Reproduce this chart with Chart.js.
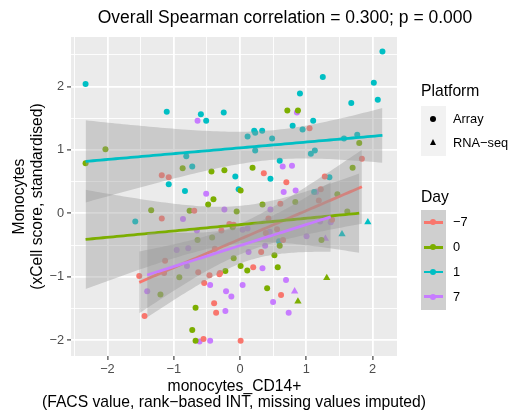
<!DOCTYPE html>
<html>
<head>
<meta charset="utf-8">
<script src="https://cdn.jsdelivr.net/npm/chart.js@4.4.1/dist/chart.umd.min.js"></script>
<style>
  body { margin: 0; background: #fff; font-family: "Liberation Sans", Arial, sans-serif; }
  #wrap { position: relative; width: 509px; height: 415px; }
  #chart { position: absolute; left: 0; top: 0; }
  .txt { position: absolute; white-space: nowrap; color: #000; }
  .ctr { transform: translateX(-50%); }
  .box { position: absolute; }
  .dot { position: absolute; width: 6px; height: 6px; border-radius: 50%; }
  .tri { position: absolute; width: 0; height: 0; border-left: 3.5px solid transparent; border-right: 3.5px solid transparent; border-bottom: 6px solid #000; }
  .keyline { position: absolute; height: 2.8px; }
</style>
</head>
<body>
<div id="wrap">
  <canvas id="chart" width="509" height="415"></canvas>
  <div class="txt ctr" style="left:285px; top:7px; line-height:20px; font-size:17.5px;">Overall Spearman correlation = 0.300; p = 0.000</div>
  <div class="txt ctr" style="left:234.5px; top:378px; line-height:16px; font-size:15.7px;">monocytes_CD14+</div>
  <div class="txt ctr" style="left:234px; top:394px; line-height:16px; font-size:15.7px;">(FACS value, rank&minus;based INT, missing values imputed)</div>
  <div id="legend"></div>
</div>
<script>
// Day groups and colours
const dayLabels = ['\u22127', '0', '1', '7'];
const dayColors = ['#F8766D', '#7CAE00', '#00BFC4', '#C77CFF'];
const platformLabels = ['Array', 'RNA\u2212seq'];

// [FACS value, xCell score] per day, Array platform
const arrayDayM7 = [[-1.18,0.60],[-1.075,0.57],[-0.69,0.04],[-1.18,-0.08],[-0.16,-0.17],[-0.095,-0.18],[-0.28,-0.27],[1.05,1.34],[0.36,0.63],[0.70,0.49],[1.28,0.58],[1.84,0.86],[1.22,0.38],[0.61,0.15],[0.43,-0.08],[0.56,-0.25],[0.65,-0.42],[0.39,-0.31],[1.19,0.20],[1.39,-0.10],[-1.13,-0.75],[-0.63,-0.93],[-1.145,-0.94],[-1.52,-0.99],[-0.46,-0.975],[-0.31,-0.96],[-0.30,-0.94],[-0.38,-0.56],[-0.54,-1.10],[-0.39,-1.42],[-1.44,-1.62],[-0.36,-1.57],[-0.55,-1.98],[0.20,-0.85],[0.32,-0.61],[0.62,-1.29],[0.01,-2.01]];
const arrayDay0 = [[-2.33,0.79],[-2.03,1.01],[-0.865,0.71],[-0.43,0.66],[-0.235,0.68],[-0.40,0.22],[-0.48,0.14],[-0.05,0.03],[-1.34,0.05],[-0.76,0.04],[-0.11,-0.22],[-0.64,-0.42],[-0.42,-0.38],[0.715,1.62],[0.875,1.62],[1.80,1.11],[0.19,0.72],[1.70,0.72],[0.01,0.36],[1.47,0.30],[0.835,0.18],[0.34,0.14],[1.62,0.03],[1.23,-0.42],[0.60,-0.51],[-0.915,-1.01],[-0.22,-0.91],[-0.095,-0.71],[-1.20,-1.28],[-0.67,-1.49],[-0.72,-1.84],[-0.67,-2.01],[0.01,-0.83],[0.11,-0.90],[0.57,-0.85],[0.52,-0.66],[0.41,-1.18]];
const arrayDay1 = [[-2.33,2.04],[-1.105,1.60],[-0.59,1.56],[-0.51,1.46],[-0.245,1.59],[2.15,2.55],[1.25,2.15],[2.02,2.06],[0.905,1.89],[1.68,1.74],[2.08,1.79],[1.105,1.46],[0.795,1.38],[0.945,1.32],[0.215,1.30],[0.23,1.27],[0.335,1.30],[0.115,1.21],[0.485,1.18],[1.57,1.18],[1.77,1.24],[-0.81,0.90],[-0.72,0.74],[-1.075,0.46],[-0.07,0.58],[-0.83,0.35],[-1.58,-0.13],[0.23,0.99],[1.07,0.94],[1.13,0.99],[0.60,0.83],[0.46,0.545],[1.35,0.57],[-0.02,0.38],[1.12,0.335],[0.59,-0.44]];
const arrayDay7 = [[-0.64,1.46],[0.86,1.59],[-0.51,0.31],[-0.235,0.06],[-0.86,-0.09],[-0.65,-0.27],[-0.78,-0.55],[0.645,0.74],[0.785,0.75],[0.66,0.335],[0.84,0.36],[1.15,0.335],[0.46,0.06],[0.115,-0.24],[0.04,-0.26],[0.45,-0.29],[1.21,-0.13],[1.37,-0.14],[1.005,-0.36],[0.38,-0.51],[-0.955,-0.58],[-0.80,-0.83],[-1.40,-1.23],[-0.45,-1.13],[-0.21,-1.23],[-0.13,-1.31],[-0.22,-1.54],[-0.61,-2.02],[-0.45,-2.01],[0.13,-0.61],[0.34,-0.865],[0.695,-1.05],[0.04,-1.13],[0.50,-1.40],[0.735,-1.57]];

// RNA-seq platform
const rnaDayM7 = [];
const rnaDay0 = [[1.31,-1.02],[0.875,-1.39]];
const rnaDay1 = [[1.93,-0.14],[1.54,-0.33]];
const rnaDay7 = [[1.29,-0.40],[0.825,-1.23]];

const arrayPts = [arrayDayM7, arrayDay0, arrayDay1, arrayDay7];
const rnaPts = [rnaDayM7, rnaDay0, rnaDay1, rnaDay7];

// axis ticks
const majorTicks = [-2, -1, 0, 1, 2];

const FONT = '"Liberation Sans", Arial, sans-serif';

function isMajor(v) {
  return majorTicks.some(t => Math.abs(t - v) < 1e-6);
}
function tickText(v) {
  if (!isMajor(v)) return '';
  const r = Math.round(v);
  return r < 0 ? '\u2212' + Math.abs(r) : String(r);
}

// linear fit with 95% confidence band, like geom_smooth(method = "lm")
function fitSmooth(pts, steps = 80) {
  const n = pts.length;
  const mx = pts.reduce((a, p) => a + p[0], 0) / n;
  const my = pts.reduce((a, p) => a + p[1], 0) / n;
  let sxx = 0, sxy = 0;
  pts.forEach(p => { sxx += (p[0] - mx) ** 2; sxy += (p[0] - mx) * (p[1] - my); });
  const b = sxy / sxx, a = my - b * mx;
  let sse = 0;
  pts.forEach(p => { sse += (p[1] - a - b * p[0]) ** 2; });
  const s = Math.sqrt(sse / (n - 2));
  const z = 1.959964, df = n - 2;
  const t = z + (z ** 3 + z) / (4 * df);
  const xmin = Math.min(...pts.map(p => p[0])), xmax = Math.max(...pts.map(p => p[0]));
  const line = [], upper = [], lower = [];
  for (let i = 0; i < steps; i++) {
    const x = xmin + (xmax - xmin) * i / (steps - 1);
    const yhat = a + b * x;
    const se = s * Math.sqrt(1 / n + (x - mx) ** 2 / sxx);
    line.push({x, y: yhat});
    upper.push({x, y: yhat + t * se});
    lower.push({x, y: yhat - t * se});
  }
  return {line, upper, lower};
}

const datasets = [];
// points go underneath the smooths
dayLabels.forEach((d, i) => {
  datasets.push({
    type: 'scatter', data: arrayPts[i].map(p => ({x: p[0], y: p[1]})),
    backgroundColor: dayColors[i], borderWidth: 0, pointRadius: 3, pointStyle: 'circle', order: 100
  });
  if (rnaPts[i].length) {
    datasets.push({
      type: 'scatter', data: rnaPts[i].map(p => ({x: p[0], y: p[1]})),
      backgroundColor: dayColors[i], borderWidth: 0, pointRadius: 4.2, pointStyle: 'triangle', order: 100
    });
  }
});
dayLabels.forEach((d, i) => {
  const fit = fitSmooth(arrayPts[i].concat(rnaPts[i]));
  const base = 90 - i * 3;
  datasets.push({type: 'line', data: fit.upper, borderColor: 'rgba(0,0,0,0)', borderWidth: 0, pointRadius: 0, fill: false, order: base});
  datasets.push({type: 'line', data: fit.lower, borderColor: 'rgba(0,0,0,0)', borderWidth: 0, pointRadius: 0,
    fill: '-1', backgroundColor: 'rgba(153,153,153,0.4)', order: base - 1});
  datasets.push({type: 'line', data: fit.line, borderColor: dayColors[i], borderWidth: 2.8, pointRadius: 0, fill: false, order: base - 2});
});

// grey panel behind the grid
const panelBg = {
  id: 'panelBg',
  beforeDraw(chart) {
    const {ctx, chartArea: c} = chart;
    ctx.save();
    ctx.fillStyle = '#EBEBEB';
    ctx.fillRect(c.left, c.top, c.right - c.left, c.bottom - c.top);
    ctx.restore();
  }
};

const gridOpts = {
  color: '#FFFFFF',
  lineWidth: ctx => isMajor(ctx.tick.value) ? 1.8 : 0.9,
  tickLength: 4,
  tickWidth: 1.1,
  tickColor: ctx => isMajor(ctx.tick.value) ? '#333333' : 'rgba(0,0,0,0)'
};
const tickOpts = {
  stepSize: 0.5, includeBounds: false, autoSkip: false, maxRotation: 0,
  color: '#4D4D4D', font: {family: FONT, size: 12.8}, callback: v => tickText(v)
};

new Chart(document.getElementById('chart'), {
  type: 'scatter',
  data: {datasets},
  options: {
    responsive: false,
    animation: false,
    events: [],
    layout: {padding: {top: 37, right: 112, left: 0, bottom: 0}},
    plugins: {legend: {display: false}, tooltip: {enabled: false}},
    scales: {
      x: {
        type: 'linear', min: -2.55, max: 2.37,
        afterFit: s => { s.height = 59; },
        ticks: Object.assign({}, tickOpts, {padding: 2}),
        grid: gridOpts,
        border: {display: false}
      },
      y: {
        type: 'linear', min: -2.25, max: 2.78,
        afterFit: s => { s.width = 71; },
        ticks: Object.assign({}, tickOpts, {padding: 3}),
        grid: gridOpts,
        border: {display: false},
        title: {
          display: true,
          text: ['Monocytes', '(xCell score, standardised)'],
          color: '#000', font: {family: FONT, size: 15.7, lineHeight: '18px'},
          padding: {top: 11, bottom: 0}
        }
      }
    }
  },
  plugins: [panelBg]
});

// legends: Platform (shape) and Day (colour)
const legend = document.getElementById('legend');
function add(html) { legend.insertAdjacentHTML('beforeend', html); }

add(`<div class="txt" style="left:421px; top:82px; line-height:18px; font-size:15.7px;">Platform</div>`);
add(`<div class="box" style="left:421px; top:106px; width:25px; height:50px; background:#F2F2F2;"></div>`);
const platY = [118.5, 142.5];
platformLabels.forEach((lab, i) => {
  if (i === 0) {
    add(`<div class="dot" style="left:${433 - 3}px; top:${platY[i] - 3}px; background:#000;"></div>`);
  } else {
    add(`<div class="tri" style="left:${433 - 3.5}px; top:${platY[i] - 3.5}px;"></div>`);
  }
  add(`<div class="txt" style="left:453px; top:${platY[i] - 8}px; line-height:16px; font-size:12.8px;">${lab}</div>`);
});

add(`<div class="txt" style="left:421px; top:188px; line-height:18px; font-size:15.7px;">Day</div>`);
add(`<div class="box" style="left:421px; top:210px; width:25px; height:99.5px; background:#CFCFCF;"></div>`);
dayLabels.forEach((lab, i) => {
  const cy = 222.4 + i * 24.8;
  add(`<div class="keyline" style="left:423.7px; width:19.6px; top:${cy - 1.4}px; background:${dayColors[i]};"></div>`);
  add(`<div class="dot" style="left:${433 - 3}px; top:${cy - 3}px; background:${dayColors[i]};"></div>`);
  add(`<div class="txt" style="left:453px; top:${cy - 8}px; line-height:16px; font-size:12.8px;">${lab}</div>`);
});
</script>
</body>
</html>
